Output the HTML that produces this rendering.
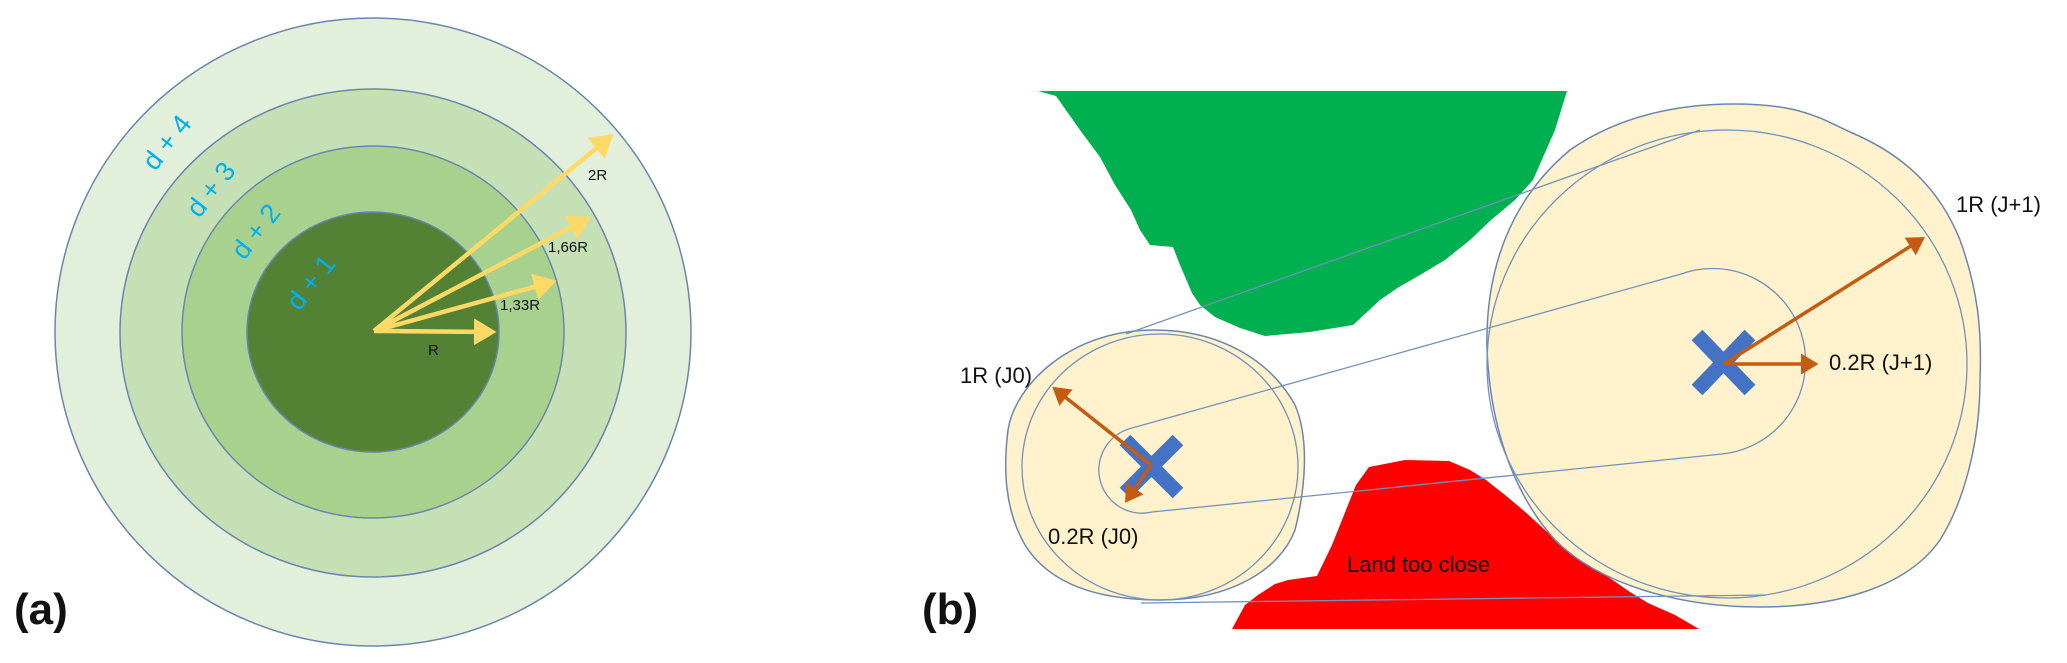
<!DOCTYPE html>
<html><head><meta charset="utf-8"><style>
html,body{margin:0;padding:0;background:#fff;width:2067px;height:663px;overflow:hidden}
svg{display:block}
text{font-family:"Liberation Sans",sans-serif}
</style></head><body>
<svg width="2067" height="663" viewBox="0 0 2067 663" xmlns="http://www.w3.org/2000/svg">
<defs>
<marker id="ya" markerWidth="6" markerHeight="6" refX="4" refY="3" orient="auto" markerUnits="strokeWidth"><path d="M0,0 L5,3 L0,6 z" fill="#ffd966"/></marker>
<marker id="oa" markerWidth="6" markerHeight="6" refX="4" refY="3" orient="auto" markerUnits="strokeWidth"><path d="M0,0 L5,3 L0,6 z" fill="#c55a11"/></marker>
</defs>
<!-- panel a -->
<g stroke="#6a86b0" stroke-width="1.5">
<ellipse cx="373" cy="332" rx="318" ry="314" fill="#e2efda"/>
<ellipse cx="373" cy="333" rx="253" ry="244" fill="#c5e0b4"/>
<ellipse cx="373" cy="332" rx="191" ry="186" fill="#a9d18e"/>
<ellipse cx="373" cy="332" rx="126" ry="120" fill="#548235"/>
</g>
<g stroke="#ffd966" stroke-width="4.5" marker-end="url(#ya)">
<line x1="374" y1="331" x2="492" y2="332"/>
<line x1="374" y1="331" x2="552" y2="282"/>
<line x1="374" y1="331" x2="587" y2="219"/>
<line x1="374" y1="331" x2="610" y2="137"/>
</g>
<g font-size="15" fill="#111">
<text x="588" y="180">2R</text>
<text x="548" y="252">1,66R</text>
<text x="500" y="310">1,33R</text>
<text x="428" y="355">R</text>
</g>
<g font-size="27" fill="#00b0f0" text-anchor="middle">
<text transform="translate(318,288) rotate(-52)">d + 1</text>
<text transform="translate(263,237) rotate(-52)">d + 2</text>
<text transform="translate(218,195) rotate(-52)">d + 3</text>
<text transform="translate(174,148) rotate(-52)">d + 4</text>
</g>
<text x="14" y="624" font-size="44" font-weight="bold" fill="#111">(a)</text>

<!-- panel b -->
<polygon fill="#00b050" points="1038,91 1567,91 1555,130 1533,180 1515,200 1491,220 1470,240 1445,260 1420,275 1399,287 1380,300 1353,325 1310,332 1265,336 1240,328 1215,317 1200,305 1192,293 1180,265 1173,247 1150,245 1140,230 1131,210 1115,185 1100,157 1080,130 1056,96"/>
<polygon fill="#ff0000" points="1232,629 1245,605 1258,595 1275,584 1288,580 1317,576 1332,545 1346,510 1356,485 1369,467 1405,460 1449,461 1470,470 1486,480 1505,495 1523,510 1545,530 1560,544 1585,562 1604,574 1630,592 1648,603 1675,615 1699,629"/>
<text x="1347" y="572" font-size="22" fill="#111">Land too close</text>

<!-- big J+1 -->
<path d="M1734,104 C1800,104 1820,118 1850,132 C1905,155 1940,190 1960,240 C1978,290 1982,330 1980,380 C1980,440 1965,500 1940,540 C1905,590 1830,607 1760,607 C1680,607 1600,585 1555,540 C1510,490 1490,420 1487,350 C1485,270 1510,200 1570,150 C1620,115 1680,104 1734,104 Z" fill="#fff2cc" stroke="#6a86b0" stroke-width="1.5"/>
<ellipse cx="1727" cy="364" rx="240" ry="234" fill="none" stroke="#7391bb" stroke-width="1.3"/>
<!-- small J0 -->
<path d="M1154,330 C1220,330 1270,360 1295,405 C1310,440 1305,490 1295,530 C1280,570 1230,600 1160,600 C1100,600 1050,585 1025,545 C1005,510 1003,470 1008,430 C1015,385 1070,330 1154,330 Z" fill="#fff2cc" stroke="#6a86b0" stroke-width="1.5"/>
<ellipse cx="1160" cy="467" rx="138" ry="133" fill="none" stroke="#7391bb" stroke-width="1.3"/>
<!-- outer tangents -->
<line x1="1126" y1="334" x2="1700" y2="130" stroke="#7391bb" stroke-width="1.3"/>
<line x1="1141" y1="603" x2="1766" y2="595" stroke="#7391bb" stroke-width="1.3"/>
<!-- capsule -->
<path d="M1681,274 A93,93 0 1 1 1722,454 L1152,512 A36,36 0 0 1 1132,428 Z" fill="none" stroke="#7391bb" stroke-width="1.3"/>
<!-- X marks -->
<g stroke="#4472c4" stroke-width="15">
<line x1="1125" y1="440" x2="1178" y2="493"/><line x1="1178" y1="440" x2="1125" y2="493"/>
<line x1="1697" y1="335" x2="1750" y2="390"/><line x1="1750" y1="335" x2="1697" y2="390"/>
</g>
<!-- orange arrows -->
<g stroke="#c55a11" stroke-width="3.5" marker-end="url(#oa)">
<line x1="1151" y1="465" x2="1055" y2="389"/>
<line x1="1151" y1="465" x2="1127" y2="500"/>
<line x1="1724" y1="364" x2="1922" y2="239"/>
<line x1="1724" y1="364" x2="1815" y2="364"/>
</g>
<g font-size="22" fill="#111">
<text x="960" y="383">1R (J0)</text>
<text x="1048" y="544">0.2R (J0)</text>
<text x="1956" y="212">1R (J+1)</text>
<text x="1829" y="370">0.2R (J+1)</text>
</g>
<text x="922" y="624" font-size="44" font-weight="bold" fill="#111">(b)</text>
</svg>
</body></html>
